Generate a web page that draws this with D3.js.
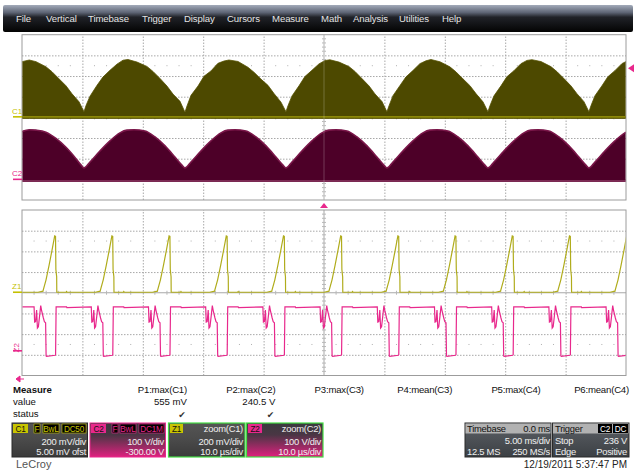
<!DOCTYPE html>
<html><head><meta charset="utf-8">
<script src="https://cdn.jsdelivr.net/npm/d3@7"></script>
<style>
html,body{margin:0;padding:0;background:#fff;}
svg{display:block;font-family:"Liberation Sans",Arial,sans-serif;}
</style></head><body>
<svg id="c" width="637" height="470"></svg>
<script>
// ---------------- DATA ----------------
const menuItems = ["File","Vertical","Timebase","Trigger","Display","Cursors","Measure","Math","Analysis","Utilities","Help"];

// C1 (top grid, 5 ms/div) envelope maximum, time in ms, value in mV
const c1Time = [-25.0,-24.4,-23.84,-23.02,-22.52,-21.94,-21.36,-20.86,-20.28,-19.87,
  -19.70,-19.37,-18.79,-18.30,-17.72,-17.14,-16.64,-16.23,-15.48,-14.66,-14.16,-13.58,-13.00,-12.50,-11.92,-11.51,
  -11.34,-11.01,-10.43,-9.94,-9.36,-8.78,-8.28,-7.87,-7.12,-6.30,-5.80,-5.22,-4.64,-4.14,-3.56,-3.15,
  -2.98,-2.65,-2.07,-1.58,-1.00,-0.42,0.08,0.49,1.24,2.06,2.56,3.14,3.72,4.22,4.80,5.21,
  5.38,5.71,6.29,6.78,7.36,7.94,8.44,8.85,9.60,10.42,10.92,11.50,12.08,12.58,13.16,13.57,
  13.74,14.07,14.65,15.14,15.72,16.30,16.80,17.21,17.96,18.78,19.28,19.86,20.44,20.94,21.52,21.93,
  22.10,22.43,23.01,23.50,24.08,24.66,25.0];
const c1Max = [534,550,534,485,437,369,301,223,146,49,
  110,200,305,385,450,510,548,555,530,488,440,372,298,220,150,45,
  105,208,298,392,444,518,540,550,536,480,432,365,305,226,142,50,
  108,202,300,390,450,512,545,552,530,487,440,370,300,222,148,48,
  106,205,303,386,448,515,542,555,533,484,436,368,302,225,145,50,
  108,203,300,388,446,514,546,553,535,486,438,370,300,224,147,49,
  107,204,301,388,447,515,535];

// C2 (top grid) envelope maximum, time in ms, value in V
const c2Time = [-25.0,-24.4,-23.84,-23.02,-22.19,-21.36,-20.53,-20.12,-19.87,
  -19.37,-18.55,-17.72,-16.89,-16.31,-15.73,-14.82,-13.99,-13.16,-12.34,-11.76,-11.51,
  -11.01,-10.19,-9.36,-8.53,-7.95,-7.37,-6.46,-5.63,-4.80,-3.98,-3.40,-3.15,
  -2.65,-1.83,-1.00,-0.17,0.41,0.99,1.90,2.73,3.56,4.38,4.96,5.21,
  5.71,6.53,7.36,8.19,8.77,9.35,10.26,11.09,11.92,12.74,13.32,13.57,
  14.07,14.89,15.72,16.55,17.13,17.71,18.62,19.45,20.28,21.10,21.68,21.93,
  22.43,23.25,24.08,24.91,25.0];
const c2Max = [232,240,238,228,198,155,100,70,55,
  84,137,186,225,238,240,234,205,162,108,69,55,
  84,137,186,225,238,240,234,205,162,108,69,55,
  84,137,186,225,238,240,234,205,162,108,69,55,
  84,137,186,225,238,240,234,205,162,108,69,55,
  84,137,186,225,238,240,234,205,162,108,69,55,
  84,137,186,225,228];

// Z1 / Z2 (bottom grid, 10 us/div): switching-cycle peak times (us)
const zPeakTimes = [-44.52,-35.05,-25.58,-16.11,-6.64,2.83,12.30,21.77,31.24,40.71,50.18];
// Z1 pulse shape around each peak: offset (us), value (mV)
const z1ShapeDt  = [-2.82,-2.0,-1.99,-1.5,-1.0,-0.5,-0.07,0.07,0.13,0.26,0.28,1.8,1.9,2.0];
const z1ShapeVal = [0,10,15,120,260,410,545,540,220,150,0,0,8,0];
// Z2 waveform around each peak: offset (us), value (V)
const z2ShapeDt  = [-3.48,-3.39,-3.23,-3.06,-2.93,-2.77,-2.57,-2.38,-2.24,-1.94,-1.77,-1.57,-1.49,-1.41,0.0,0.08,0.17,1.9,1.95];
const z2ShapeVal = [232,158,160,216,129,135,187,238,215,178,160,155,-5,-7,-2,0,232,232,228];

const measureNames  = ["P1:max(C1)","P2:max(C2)","P3:max(C3)","P4:mean(C3)","P5:max(C4)","P6:mean(C4)"];
const measureValues = ["555 mV","240.5 V","","","",""];
const measureStatus = ["\u2714","\u2714","","","",""];

// ---------------- DRAW ----------------
const svg = d3.select("#c");
const defs = svg.append("defs");
function vgrad(id, stops){
  const g = defs.append("linearGradient").attr("id",id).attr("x1",0).attr("y1",0).attr("x2",0).attr("y2",1);
  stops.forEach(s=>g.append("stop").attr("offset",s[0]).attr("stop-color",s[1]));
}
vgrad("menuG",[[0,"#a3abba"],[0.28,"#5d6474"],[0.45,"#202228"],[1,"#030303"]]);
vgrad("grayG",[[0,"#555555"],[0.5,"#4a4a4a"],[1,"#3a3a3a"]]);
vgrad("pinkG",[[0,"#3a3a3e"],[0.35,"#4a3644"],[1,"#e0207f"]]);
vgrad("tbG",[[0,"#5c6066"],[1,"#3c4044"]]);

// menu bar
svg.append("rect").attr("x",3).attr("y",5).attr("width",630).attr("height",27).attr("rx",2).attr("fill","url(#menuG)");
const menuX = [16,46,88,142,184,227,272,321,353,399,442];
svg.selectAll("text.menu").data(menuItems).join("text").attr("class","menu")
  .attr("x",(d,i)=>menuX[i]).attr("y",22).attr("font-size",9.6).attr("letter-spacing",-0.1)
  .attr("fill","#e4e4e4").text(d=>d);

const gx0=22, gx1=626;
const gTop=[34.7,200], gBot=[210,375.5];
const xT = d3.scaleLinear().domain([-25,25]).range([gx0,gx1]);
const xZ = d3.scaleLinear().domain([-50,50]).range([gx0,gx1]);
const yC1 = d3.scaleLinear().domain([-805,795]).range([gTop[1],gTop[0]]);
const yC2 = d3.scaleLinear().domain([-100,700]).range([gTop[1],gTop[0]]);
const yZ1 = d3.scaleLinear().domain([-805,795]).range([gBot[1],gBot[0]]);
const yZ2 = d3.scaleLinear().domain([-100,700]).range([gBot[1],gBot[0]]);

function drawGrid(xs, ys, rng, xCenter, yCenter){
  const g = svg.append("g");
  const h = rng[1]-rng[0];
  g.append("g").attr("transform",`translate(0,${rng[1]})`)
    .call(d3.axisBottom(xs).tickValues(xs.ticks(10).filter(v=>v!==xs.domain()[0]&&v!==xs.domain()[1]&&v!==xCenter)).tickSize(-h).tickFormat(""))
    .call(a=>a.select(".domain").remove())
    .call(a=>a.selectAll("line").attr("stroke","#a8a8a8").attr("stroke-dasharray","1.5,1.5"));
  const yv = d3.range(-3,4).map(k=>yCenter+k*(ys.domain()[1]-ys.domain()[0])/8);
  g.append("g").attr("transform",`translate(${gx0},0)`)
    .call(d3.axisLeft(ys).tickValues(yv.filter(v=>v!==yCenter)).tickSize(-(gx1-gx0)).tickFormat(""))
    .call(a=>a.select(".domain").remove())
    .call(a=>a.selectAll("line").attr("stroke","#a8a8a8").attr("stroke-dasharray","1.5,1.5"));
  g.append("line").attr("x1",xs(xCenter)).attr("x2",xs(xCenter)).attr("y1",rng[0]).attr("y2",rng[1]).attr("stroke","#a8a8a8");
  g.append("line").attr("x1",gx0).attr("x2",gx1).attr("y1",ys(yCenter)).attr("y2",ys(yCenter)).attr("stroke","#a8a8a8");
  const dx = (gx1-gx0)/50, dy = h/40;
  for(let i=1;i<50;i++){ if(i%5===0) continue;
    const x = gx0+i*dx;
    g.append("line").attr("x1",x).attr("x2",x).attr("y1",ys(yCenter)-2).attr("y2",ys(yCenter)+2).attr("stroke","#b8b8b8");
    [1.5,6.5].forEach(r=>g.append("rect").attr("x",x-0.5).attr("y",rng[0]+r*h/8-0.5).attr("width",1).attr("height",1).attr("fill","#b0b0b0"));
  }
  for(let i=1;i<40;i++){ if(i%5===0) continue;
    const y = rng[0]+i*dy;
    g.append("line").attr("x1",xs(xCenter)-2).attr("x2",xs(xCenter)+2).attr("y1",y).attr("y2",y).attr("stroke","#b8b8b8");
  }
  g.append("rect").attr("x",gx0).attr("y",rng[0]).attr("width",gx1-gx0).attr("height",h)
    .attr("fill","none").attr("stroke","#9c9c9c");
}
drawGrid(xT, yC1, gTop, 0, -5);
drawGrid(xZ, yZ1, gBot, 0, -5);

defs.append("clipPath").attr("id","clipT").append("rect").attr("x",gx0+0.5).attr("y",gTop[0]).attr("width",gx1-gx0-1).attr("height",gTop[1]-gTop[0]);
defs.append("clipPath").attr("id","clipB").append("rect").attr("x",gx0+0.5).attr("y",gBot[0]).attr("width",gx1-gx0-1).attr("height",gBot[1]-gBot[0]);

// C1 envelope
const c1Data = c1Time.map((t,i)=>({t, v:c1Max[i]}));
const gT = svg.append("g").attr("clip-path","url(#clipT)");
gT.append("path").datum(c1Data)
  .attr("d", d3.area().x(d=>xT(d.t)).y0(yC1(-16)).y1(d=>yC1(d.v)))
  .attr("fill","#4d4900").attr("stroke","#565200").attr("stroke-width",0.8);
gT.append("line").attr("x1",gx0).attr("x2",gx1).attr("y1",yC1(0)).attr("y2",yC1(0))
  .attr("stroke","#8c8808").attr("stroke-width",1.6);

// C2 envelope
const c2Data = c2Time.map((t,i)=>({t, v:c2Max[i]}));
gT.append("path").datum(c2Data)
  .attr("d", d3.area().curve(d3.curveMonotoneX).x(d=>xT(d.t)).y0(yC2(-13)).y1(d=>yC2(d.v)))
  .attr("fill","#4d0028");
gT.append("path").datum(c2Data)
  .attr("d", d3.line().curve(d3.curveMonotoneX).x(d=>xT(d.t)).y(d=>yC2(d.v)))
  .attr("fill","none").attr("stroke","#7a1649").attr("stroke-width",1.6);
gT.append("line").attr("x1",gx0).attr("x2",gx1).attr("y1",yC2(-8)).attr("y2",yC2(-8))
  .attr("stroke","#c46a98").attr("stroke-width",0.8);
gT.append("line").attr("x1",xT(0)).attr("x2",xT(0)).attr("y1",gTop[0]).attr("y2",gTop[1])
  .attr("stroke","#ffffff").attr("stroke-opacity",0.22);

// Z1 and Z2 traces
const z1Pts=[{t:-50,v:0}], z2Pts=[{t:-50,v:232}];
zPeakTimes.forEach(p=>{
  z1ShapeDt.forEach((dt,i)=>z1Pts.push({t:p+dt, v:z1ShapeVal[i]}));
  z2ShapeDt.forEach((dt,i)=>z2Pts.push({t:p+dt, v:z2ShapeVal[i]}));
});
const gB = svg.append("g").attr("clip-path","url(#clipB)");
gB.append("path").datum(z2Pts)
  .attr("d", d3.line().x(d=>xZ(d.t)).y(d=>yZ2(d.v)))
  .attr("fill","none").attr("stroke","#e8288c").attr("stroke-width",1.2);
gB.append("path").datum(z1Pts)
  .attr("d", d3.line().x(d=>xZ(d.t)).y(d=>yZ1(d.v)))
  .attr("fill","none").attr("stroke","#b0ac1c").attr("stroke-width",1.2);

// trace labels
function traceLabel(txt, y, col, rot){
  const t = svg.append("text").attr("font-size",8).attr("fill",col).text(txt);
  if(rot){ t.attr("transform",`translate(19,${y-3}) rotate(-90)`).attr("text-anchor","middle"); }
  else { t.attr("x",12).attr("y",y-3); }
  svg.append("line").attr("x1",13).attr("x2",22).attr("y1",y).attr("y2",y).attr("stroke",col).attr("stroke-width",1.6);
}
traceLabel("C1", yC1(0), "#c4c000", false);
traceLabel("C2", yC2(0), "#e8288c", false);
traceLabel("Z1", yZ1(0), "#c4c000", false);
traceLabel("Z2", yZ2(0)-4, "#e8288c", true);

// markers
svg.append("path").attr("d",`M${xT(0)-4},${gTop[1]+8}L${xT(0)+4},${gTop[1]+8}L${xT(0)},${gTop[1]+3}Z`).attr("fill","#e8288c");
svg.append("path").attr("d",`M628,${yC1(470)}L634,${yC1(470)-4}L634,${yC1(470)+4}Z`).attr("fill","#e8288c");
svg.append("path").attr("d","M16,379 L20,376 L20,382 Z M19,379 L24,379").attr("fill","#e8288c").attr("stroke","#e8288c").attr("stroke-width",1);

// measure table
const mfs = 9.6;
svg.append("text").attr("x",13).attr("y",393).attr("font-size",mfs).attr("font-weight","bold").attr("fill","#111").text("Measure");
svg.append("text").attr("x",13).attr("y",405).attr("font-size",mfs).attr("fill","#111").text("value");
svg.append("text").attr("x",13).attr("y",417).attr("font-size",mfs).attr("fill","#111").text("status");
const colRight = d3.scalePoint().domain(measureNames).range([187,629]);
svg.selectAll("text.mn").data(measureNames).join("text").attr("class","mn")
  .attr("x",d=>colRight(d)).attr("y",393).attr("text-anchor","end").attr("font-size",mfs).attr("letter-spacing",-0.2).attr("fill","#111").text(d=>d);
svg.selectAll("text.mv").data(measureValues).join("text").attr("class","mv")
  .attr("x",(d,i)=>colRight(measureNames[i])).attr("y",405).attr("text-anchor","end").attr("font-size",mfs).attr("fill","#111").text(d=>d);
svg.selectAll("text.ms").data(measureStatus).join("text").attr("class","ms")
  .attr("x",(d,i)=>colRight(measureNames[i])-5).attr("y",418).attr("text-anchor","middle").attr("font-size",9)
  .attr("font-family","DejaVu Sans").attr("fill","#333").text(d=>d);

// descriptor boxes
function tag(x,y,w,txt,bg,fg,border){
  svg.append("rect").attr("x",x).attr("y",y).attr("width",w).attr("height",9).attr("fill",bg).attr("stroke",border||"none").attr("stroke-width",0.6);
  svg.append("text").attr("x",x+w/2).attr("y",y+7.6).attr("text-anchor","middle").attr("font-size",8.2).attr("letter-spacing",-0.2).attr("fill",fg).text(txt);
}
function txt(x,y,s,anchor,col){
  svg.append("text").attr("x",x).attr("y",y).attr("text-anchor",anchor).attr("font-size",9.4).attr("letter-spacing",-0.25).attr("fill",col||"#f0f0f0").text(s);
}
const by=423, bh=34;
// C1
svg.append("rect").attr("x",12).attr("y",by).attr("width",75.5).attr("height",bh).attr("fill","url(#grayG)").attr("stroke","#2a2a2a");
tag(13,by+1,15,"C1","#c8c400","#111");
tag(34,by+1,6,"F","#000","#c8c400","#c8c400");
tag(43,by+1,16,"BwL","#000","#c8c400","#c8c400");
tag(62,by+1,24,"DC50","#000","#c8c400","#c8c400");
txt(86,by+21.5,"200 mV/div","end"); txt(86,by+32,"5.00 mV ofst","end");
// C2
svg.append("rect").attr("x",90).attr("y",by).attr("width",75.5).attr("height",bh).attr("fill","url(#pinkG)").attr("stroke","#e8288c");
tag(91,by+1,15,"C2","#e8288c","#111");
tag(112,by+1,6,"F","#000","#e8288c","#e8288c");
tag(120,by+1,16,"BwL","#000","#e8288c","#e8288c");
tag(139,by+1,25,"DC1M","#000","#e8288c","#e8288c");
txt(164,by+21.5,"100 V/div","end"); txt(164,by+32,"-300.00 V","end");
// Z1
svg.append("rect").attr("x",168.5).attr("y",by).attr("width",76.5).attr("height",bh).attr("fill","url(#grayG)").attr("stroke","#44dd44").attr("stroke-width",1.2);
tag(170,by+1,13,"Z1","#c8c400","#111");
txt(243,by+9,"zoom(C1)","end"); txt(243,by+21.5,"200 mV/div","end"); txt(243,by+32,"10.0 \u00b5s/div","end");
// Z2
svg.append("rect").attr("x",246.5).attr("y",by).attr("width",76.5).attr("height",bh).attr("fill","url(#pinkG)").attr("stroke","#44dd44").attr("stroke-width",1.2);
tag(248,by+1,14,"Z2","#e8288c","#111");
txt(321,by+9,"zoom(C2)","end"); txt(321,by+21.5,"100 V/div","end"); txt(321,by+32,"10.0 \u00b5s/div","end");
// Timebase
svg.append("rect").attr("x",465).attr("y",by).attr("width",86).attr("height",bh).attr("fill","url(#tbG)").attr("stroke","#2a2a2a");
svg.append("rect").attr("x",465.5).attr("y",by+0.5).attr("width",85).attr("height",10).attr("fill","#b2b2b2");
txt(467,by+9,"Timebase","start","#111"); txt(550,by+9,"0.0 ms","end","#111");
txt(550,by+21,"5.00 ms/div","end"); txt(467,by+32,"12.5 MS","start"); txt(550,by+32,"250 MS/s","end");
// Trigger
svg.append("rect").attr("x",552.5).attr("y",by).attr("width",76.5).attr("height",bh).attr("fill","url(#tbG)").attr("stroke","#2a2a2a");
svg.append("rect").attr("x",553).attr("y",by+0.5).attr("width",75.5).attr("height",10).attr("fill","#b2b2b2");
txt(555,by+9,"Trigger","start","#111");
tag(598,by+1,14,"C2","#000","#fff"); tag(613,by+1,15,"DC","#000","#fff");
txt(627,by+21,"236 V","end"); txt(555,by+21,"Stop","start");
txt(627,by+32,"Positive","end"); txt(555,by+32,"Edge","start");

svg.append("text").attr("x",16).attr("y",467.5).attr("font-size",11).attr("fill","#555").text("LeCroy");
svg.append("text").attr("x",627).attr("y",468).attr("text-anchor","end").attr("font-size",10).attr("fill","#222").text("12/19/2011 5:37:47 PM");
</script>
</body></html>
